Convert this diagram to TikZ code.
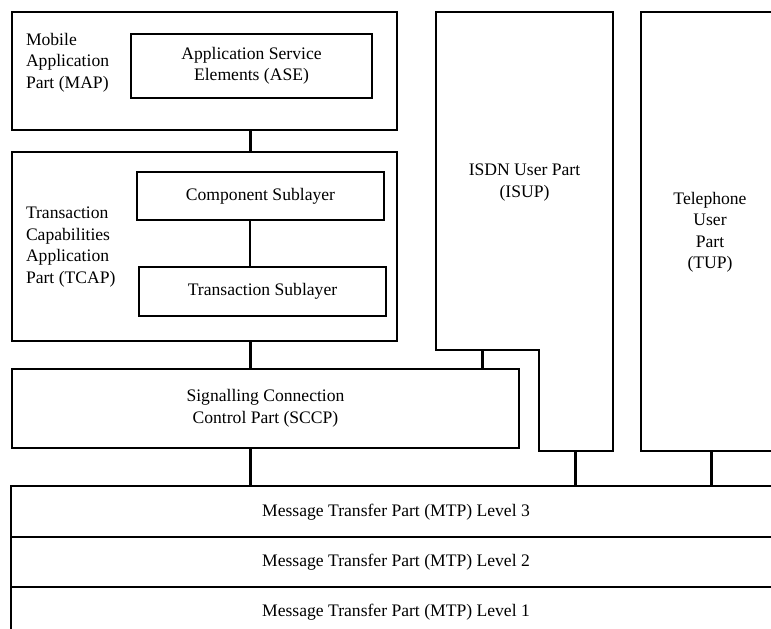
\documentclass[tikz,border=0pt]{standalone}
\usepackage{fontspec}
\setmainfont{Liberation Serif}
\begin{document}
\begin{tikzpicture}[x=1pt,y=-1pt,
  box/.style={draw=black, line width=1.6pt, fill=white, inner sep=0pt, outer sep=0pt, anchor=north west},
  lbl/.style={inner sep=0pt, outer sep=0pt, align=center, font=\fontsize{17.6}{21.5}\selectfont},
  llbl/.style={lbl, align=left, anchor=west},
  conn/.style={line width=3pt},
  thinconn/.style={line width=1.2pt}]
  \useasboundingbox (0,0) rectangle (771,629);
  \clip (0,0) rectangle (771,629);
  \fill[white] (0,0) rectangle (771,629);

  % Mobile Application Part
  \node[box, minimum width=385pt, minimum height=118pt] (map) at (12,12) {};
  \node[box, minimum width=241pt, minimum height=64pt] (ase) at (131,34) {};
  \node[lbl] (asel) at (ase.center) {Application Service\\Elements (ASE)};
  \node[llbl] (mapl) at (26,62.5) {Mobile\\Application\\Part (MAP)};

  % Transaction Capabilities Application Part
  \node[box, minimum width=385pt, minimum height=189pt] (tcap) at (12,152) {};
  \node[box, minimum width=247pt, minimum height=48pt] (comp) at (137,172) {};
  \node[lbl] at (comp.center) {Component Sublayer};
  \node[box, minimum width=247pt, minimum height=49pt] (trans) at (139,267) {};
  \node[lbl] at (trans.center) {Transaction Sublayer};
  \node[llbl] (tcapl) at (26,247) {Transaction\\Capabilities\\Application\\Part (TCAP)};

  % Signalling Connection Control Part
  \node[box, minimum width=507pt, minimum height=79pt] (sccp) at (12,369) {};
  \node[lbl] at (sccp.center) {Signalling Connection\\Control Part (SCCP)};

  % ISDN User Part, notched around the SCCP
  \coordinate (i1) at (436,12);
  \coordinate (i2) at (613,12);
  \coordinate (i3) at (613,451);
  \coordinate (i4) at (539,451);
  \coordinate (i5) at (539,350);
  \coordinate (i6) at (436,350);
  \draw[line width=1.6pt, line join=miter] (i1) -- (i2) -- (i3) -- (i4) -- (i5) -- (i6) -- cycle;
  \node[lbl] (isupl) at (524.5,182.5) {ISDN User Part\\(ISUP)};

  % Telephone User Part
  \node[box, minimum width=138pt, minimum height=439pt] (tup) at (641,12) {};
  \node[lbl] at (710,232.5) {Telephone\\User\\Part\\(TUP)};

  % Message Transfer Part levels
  \node[box, minimum width=770pt, minimum height=51pt] (mtp3) at (11,486) {};
  \node[box, minimum width=770pt, minimum height=50pt] (mtp2) at (11,537) {};
  \node[box, minimum width=770pt, minimum height=51pt] (mtp1) at (11,587) {};
  \node[lbl] at (396,512) {Message Transfer Part (MTP) Level 3};
  \node[lbl] at (396,562) {Message Transfer Part (MTP) Level 2};
  \node[lbl] at (396,612) {Message Transfer Part (MTP) Level 1};

  % Connectors between the layers
  \coordinate (xa) at (250,0);
  \coordinate (xb) at (482,0);
  \coordinate (xc) at (575,0);
  \coordinate (xd) at (711,0);
  \draw[conn] (map.south -| xa) -- (tcap.north -| xa);
  \draw[thinconn] (comp.south -| xa) -- (trans.north -| xa);
  \draw[conn] (tcap.south -| xa) -- (sccp.north -| xa);
  \draw[conn] (sccp.south -| xa) -- (mtp3.north -| xa);
  \draw[conn] (i6 -| xb) -- (sccp.north -| xb);
  \draw[conn] (i3 -| xc) -- (mtp3.north -| xc);
  \draw[conn] (tup.south -| xd) -- (mtp3.north -| xd);
\end{tikzpicture}
\end{document}
